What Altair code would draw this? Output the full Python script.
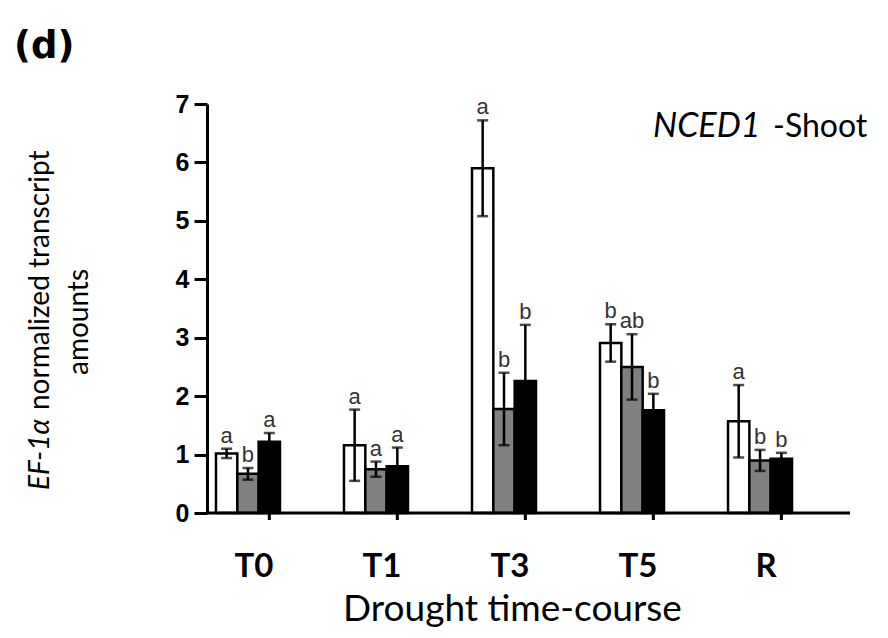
import altair as alt
import pandas as pd

# ---- data ----
groups = ["T0", "T1", "T3", "T5", "R"]
series = ["S1", "S2", "S3"]
bar_colors = ["white", "#808080", "black"]

white_mean = [1.02, 1.16, 5.90, 2.91, 1.57]
white_err = [0.08, 0.61, 0.82, 0.32, 0.62]
white_sig = ["a", "a", "a", "b", "a"]

grey_mean = [0.67, 0.75, 1.78, 2.50, 0.90]
grey_err = [0.10, 0.13, 0.62, 0.56, 0.18]
grey_sig = ["b", "a", "b", "ab", "b"]

black_mean = [1.22, 0.80, 2.26, 1.76, 0.93]
black_err = [0.15, 0.32, 0.96, 0.28, 0.10]
black_sig = ["a", "a", "b", "b", "b"]

y_ticks = [0, 1, 2, 3, 4, 5, 6, 7]

panel_label = "(d)"
gene_label = "NCED1"
tissue_label = "-Shoot"
ytitle_italic = "EF-1\u03b1"
ytitle_rest = "normalized transcript"
ytitle_line2 = "amounts"
xtitle = "Drought time-course"

rows = []
for s, means, errs, sigs in zip(series,
                                [white_mean, grey_mean, black_mean],
                                [white_err, grey_err, black_err],
                                [white_sig, grey_sig, black_sig]):
    for g, m, e, sg in zip(groups, means, errs, sigs):
        rows.append({"group": g, "series": s, "mean": m,
                     "lo": m - e, "hi": m + e, "sig": sg})
df = pd.DataFrame(rows)

W, H = 643, 409
y_scale = alt.Scale(domain=[0, 7], nice=False)
y_axis = alt.Axis(values=y_ticks, title="", grid=False,
                  labelFont="Liberation Sans", labelFontWeight="bold",
                  labelFontSize=25, labelColor="black", labelPadding=5,
                  tickSize=13, tickWidth=3, tickColor="black",
                  domainWidth=3, domainColor="black")
x_axis = alt.Axis(title=xtitle, titleFont="Lato", titleFontSize=37,
                  titleFontWeight="normal", titleColor="black", titlePadding=8,
                  titleX=305,
                  labelFont="Lato", labelFontWeight="bold", labelFontSize=33,
                  labelColor="black", labelPadding=37, labelAngle=0,
                  labelOffset=6, ticks=False, tickSize=0, domain=False)

base = alt.Chart(df).encode(
    x=alt.X("group:N", sort=groups, axis=x_axis,
            scale=alt.Scale(range=[0, 594], paddingInner=0.5, paddingOuter=0.07)),
    xOffset=alt.XOffset("series:N", sort=series),
)

bars = base.mark_bar(stroke="black", strokeWidth=2.5).encode(
    y=alt.Y("mean:Q", scale=y_scale, axis=y_axis),
    color=alt.Color("series:N", scale=alt.Scale(domain=series, range=bar_colors),
                    legend=None),
)
err = base.mark_rule(color="black", strokeWidth=2.5).encode(
    y=alt.Y("lo:Q", scale=y_scale, axis=y_axis), y2="hi:Q")
cap_hi = base.mark_tick(color="black", size=11, thickness=2.5).encode(
    y=alt.Y("hi:Q", scale=y_scale, axis=y_axis))
cap_lo = base.mark_tick(color="black", size=11, thickness=2.5).encode(
    y=alt.Y("lo:Q", scale=y_scale, axis=y_axis))
sig = base.mark_text(font="Liberation Sans", fontSize=22, color="#333333",
                     baseline="alphabetic", dy=-6).encode(
    y=alt.Y("hi:Q", scale=y_scale, axis=y_axis), text="sig:N")
xticks = base.transform_filter(alt.datum.series == "S3").mark_rule(
    color="black", strokeWidth=3).encode(y=alt.value(H), y2=alt.value(H + 7))

zero_df = pd.DataFrame({"v": [0]})
baseline = alt.Chart(zero_df).mark_rule(color="black", strokeWidth=3).encode(
    y=alt.Y("v:Q", scale=y_scale, axis=y_axis), x=alt.value(0), x2=alt.value(W))

def label(txt, x, y, **kw):
    return alt.Chart(pd.DataFrame({"t": [txt]})).mark_text(**kw).encode(
        text="t:N", x=alt.value(x), y=alt.value(y))

t_panel = label(panel_label, -193, -46, font="DejaVu Sans", fontSize=37,
                fontWeight="bold", align="left", baseline="alphabetic", color="black")
t_gene = label(gene_label, 446, 33, font="Lato", fontSize=34, fontStyle="italic",
               align="left", baseline="alphabetic", color="black")
t_tissue = label(tissue_label, 566, 33, font="Lato", fontSize=32,
                 align="left", baseline="alphabetic", color="black")
t_y1 = label(ytitle_italic, -158, 386, font="Lato", fontSize=28, fontStyle="italic",
             angle=270, align="left", baseline="alphabetic", color="black")
t_y2 = label(ytitle_rest, -158, 306, font="Lato", fontSize=28,
             angle=270, align="left", baseline="alphabetic", color="black")
t_y3 = label(ytitle_line2, -119, 218, font="Lato", fontSize=28,
             angle=270, align="center", baseline="alphabetic", color="black")

chart = alt.layer(bars, err, cap_hi, cap_lo, sig, xticks, baseline,
                  t_panel, t_gene, t_tissue, t_y1, t_y2, t_y3).properties(
    width=W, height=H,
    autosize=alt.AutoSizeParams(type="none"),
    padding={"left": 199, "top": 96, "right": 30, "bottom": 117},
    background="white",
).configure_view(stroke=None)

chart.save("out.html", embed_options={"renderer": "svg", "actions": False})
